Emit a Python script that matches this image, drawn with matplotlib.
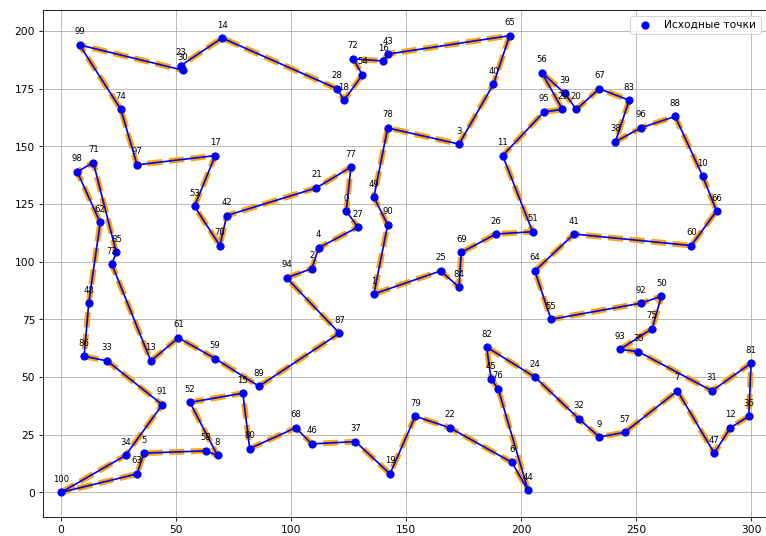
import numpy as np
import matplotlib
matplotlib.use("Agg")
import matplotlib.pyplot as plt

# Coordenadas de los puntos (índice = número del punto)
xs = [124, 136, 109, 173, 112, 36, 196, 268, 68, 234,
      279, 192, 291, 39, 70, 79, 140, 67, 123, 143,
      224, 111, 169, 52, 206, 165, 189, 129, 120, 218,
      53, 283, 225, 20, 28, 251, 299, 128, 241, 219,
      188, 223, 72, 142, 203, 187, 109, 284, 12, 136,
      261, 205, 56, 58, 131, 213, 209, 245, 63, 67,
      274, 51, 17, 33, 206, 195, 285, 234, 102, 174,
      69, 14, 127, 22, 26, 257, 190, 126, 142, 154,
      82, 300, 185, 247, 173, 24, 10, 121, 267, 86,
      142, 44, 252, 243, 98, 210, 252, 33, 7, 8,
      0]
ys = [122, 86, 97, 151, 106, 17, 13, 44, 16, 24,
      137, 146, 28, 57, 197, 43, 187, 146, 170, 8,
      166, 132, 28, 185, 50, 96, 112, 115, 175, 166,
      183, 44, 32, 57, 16, 61, 33, 22, 152, 173,
      177, 112, 120, 190, 1, 49, 21, 17, 82, 128,
      85, 113, 39, 124, 181, 75, 182, 26, 18, 58,
      107, 67, 117, 8, 96, 198, 122, 175, 28, 104,
      107, 143, 188, 99, 166, 71, 45, 141, 158, 33,
      19, 56, 63, 170, 89, 104, 59, 69, 163, 46,
      116, 38, 82, 62, 93, 165, 158, 142, 139, 194,
      0]

# Orden de la ruta
ruta = [100, 34, 91, 33, 86, 48, 62, 98, 71, 85, 73, 13, 61, 59, 89, 87, 94, 2, 4,
        27, 0, 77, 21, 42, 70, 53, 17, 97, 74, 99, 30, 23, 14, 28, 18, 54, 72, 16,
        43, 65, 40, 3, 78, 49, 90, 1, 25, 84, 69, 26, 51, 11, 95, 29, 56, 39, 20,
        67, 83, 38, 96, 88, 10, 66, 60, 41, 64, 55, 92, 50, 75, 93, 35, 31, 81, 36,
        12, 47, 7, 57, 9, 32, 24, 82, 45, 76, 44, 6, 22, 79, 19, 37, 46, 68, 80,
        15, 52, 8, 58, 5, 63, 100]

xs = np.array(xs)
ys = np.array(ys)
ruta = np.array(ruta)

fig = plt.figure(figsize=(10, 7), dpi=76.6)
ax = fig.add_axes([42.5 / 766, 18.5 / 536, 723.5 / 766, 507 / 536])

# Ruta: naranja discontinua debajo, azul encima
ax.plot(xs[ruta], ys[ruta], color='orange', linewidth=5.5, dashes=(2.6, 1.1))
ax.plot(xs[ruta], ys[ruta], color='blue', linewidth=1.6)
ax.scatter(xs, ys, color='blue', s=45, zorder=3, label='Исходные точки')

for i in range(len(xs)):
    ax.annotate(str(i), (xs[i], ys[i]), textcoords='offset points',
                xytext=(0, 10), ha='center', fontsize=8)

ax.set_xlim(-8.1, 306.5)
ax.set_ylim(-10.9, 209.0)
ax.set_xticks(np.arange(0, 301, 50))
ax.set_yticks(np.arange(0, 201, 25))
ax.grid(True)
ax.legend(loc='upper right')

fig.savefig('out.png', dpi=76.6)
